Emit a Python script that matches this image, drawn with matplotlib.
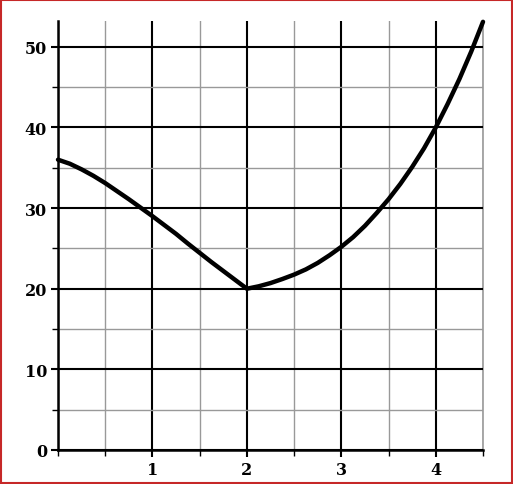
import matplotlib
matplotlib.use("Agg")
import matplotlib.pyplot as plt
from matplotlib.ticker import MultipleLocator, FixedLocator
from matplotlib.patches import Rectangle

x_vals = [0, 0.125, 0.25, 0.375, 0.5, 0.625, 0.75, 0.875, 1,
          1.125, 1.25, 1.375, 1.5, 1.625, 1.75, 1.875, 2,
          2.125, 2.25, 2.375, 2.5, 2.625, 2.75, 2.875, 3,
          3.125, 3.25, 3.375, 3.5, 3.625, 3.75, 3.875, 4,
          4.125, 4.25, 4.375, 4.5]
y_vals = [36.0, 35.5, 34.8, 34.0, 33.1, 32.1, 31.1, 30.05, 29.0,
          27.9, 26.8, 25.6, 24.45, 23.3, 22.2, 21.1, 20.0,
          20.3, 20.7, 21.2, 21.75, 22.4, 23.2, 24.15, 25.2,
          26.4, 27.8, 29.4, 31.1, 33.0, 35.1, 37.4, 40.0,
          42.9, 46.0, 49.4, 53.1]
x_ticks = [1, 2, 3, 4]
x_tick_labels = ["1", "2", "3", "4"]
y_ticks = [0, 10, 20, 30, 40, 50]
y_tick_labels = ["0", "10", "20", "30", "40", "50"]

fig = plt.figure(figsize=(5.13, 4.85), dpi=100)
ax = fig.add_axes([58/513, 34/485, 425/513, 429/485])
ax.set_xlim(0, 4.5)
ax.set_ylim(0, 53.2)

ax.xaxis.set_major_locator(FixedLocator(x_ticks))
ax.set_xticklabels(x_tick_labels)
ax.xaxis.set_minor_locator(MultipleLocator(0.5))
ax.yaxis.set_major_locator(FixedLocator(y_ticks))
ax.set_yticklabels(y_tick_labels)
ax.yaxis.set_minor_locator(MultipleLocator(5))

ax.grid(which="minor", color="#999999", linewidth=1.0)
ax.grid(which="major", color="black", linewidth=1.5)
ax.set_axisbelow(True)
ax.axvline(4.5, color="#999999", linewidth=1.2, clip_on=False, zorder=0.5)

for s in ["top", "right"]:
    ax.spines[s].set_visible(False)
for s in ["left", "bottom"]:
    ax.spines[s].set_linewidth(1.8)
    ax.spines[s].set_color("black")

ax.tick_params(which="major", length=5, width=1.5, color="black", pad=3)
ax.tick_params(which="minor", length=4, width=1.0, color="black")
for lab in ax.get_xticklabels() + ax.get_yticklabels():
    lab.set_fontfamily("DejaVu Serif")
    lab.set_fontweight("bold")
    lab.set_fontsize(11.5)

ax.plot(x_vals, y_vals, color="black", linewidth=3.2, solid_joinstyle="round",
        solid_capstyle="round", clip_on=False, zorder=5)

fig.patches.append(Rectangle((1/513, 1/485), 511/513, 483/485, transform=fig.transFigure,
                             fill=False, edgecolor="#c62828", linewidth=1.5))

fig.savefig("out.png", dpi=100)
